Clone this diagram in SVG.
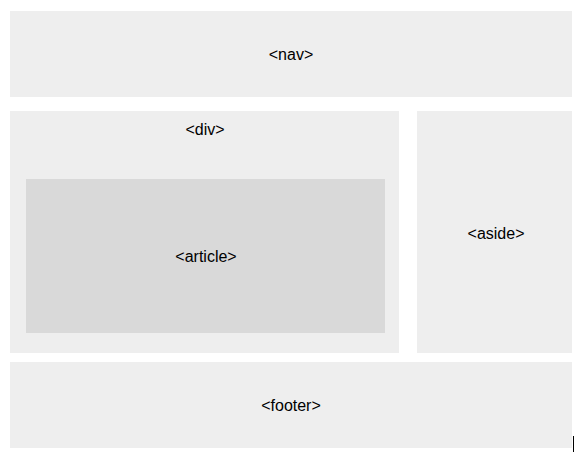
<svg xmlns="http://www.w3.org/2000/svg" width="583" height="462" viewBox="0 0 583 462">
<style>
.box{fill:#eeeeee}
.inner{fill:#d9d9d9}
text{font-family:"Liberation Sans",Arial,sans-serif;font-size:16px;fill:#000;text-anchor:middle}
</style>
<rect width="583" height="462" fill="#ffffff"/>
<g id="nav"><rect class="box" x="10" y="11" width="562" height="86"/><text x="291" y="60">&lt;nav&gt;</text></g>
<g id="div"><rect class="box" x="10" y="111" width="389" height="242"/><text x="205" y="135">&lt;div&gt;</text></g>
<g id="article"><rect class="inner" x="26" y="179" width="359" height="154"/><text x="206" y="262">&lt;article&gt;</text></g>
<g id="aside"><rect class="box" x="417" y="111" width="155" height="242"/><text x="496" y="239">&lt;aside&gt;</text></g>
<g id="footer"><rect class="box" x="10" y="362" width="562" height="86"/><text x="291" y="411">&lt;footer&gt;</text></g>
<g id="connectors"></g>
<line x1="573.5" y1="436" x2="573.5" y2="452" stroke="#000" stroke-width="1"/>
</svg>
